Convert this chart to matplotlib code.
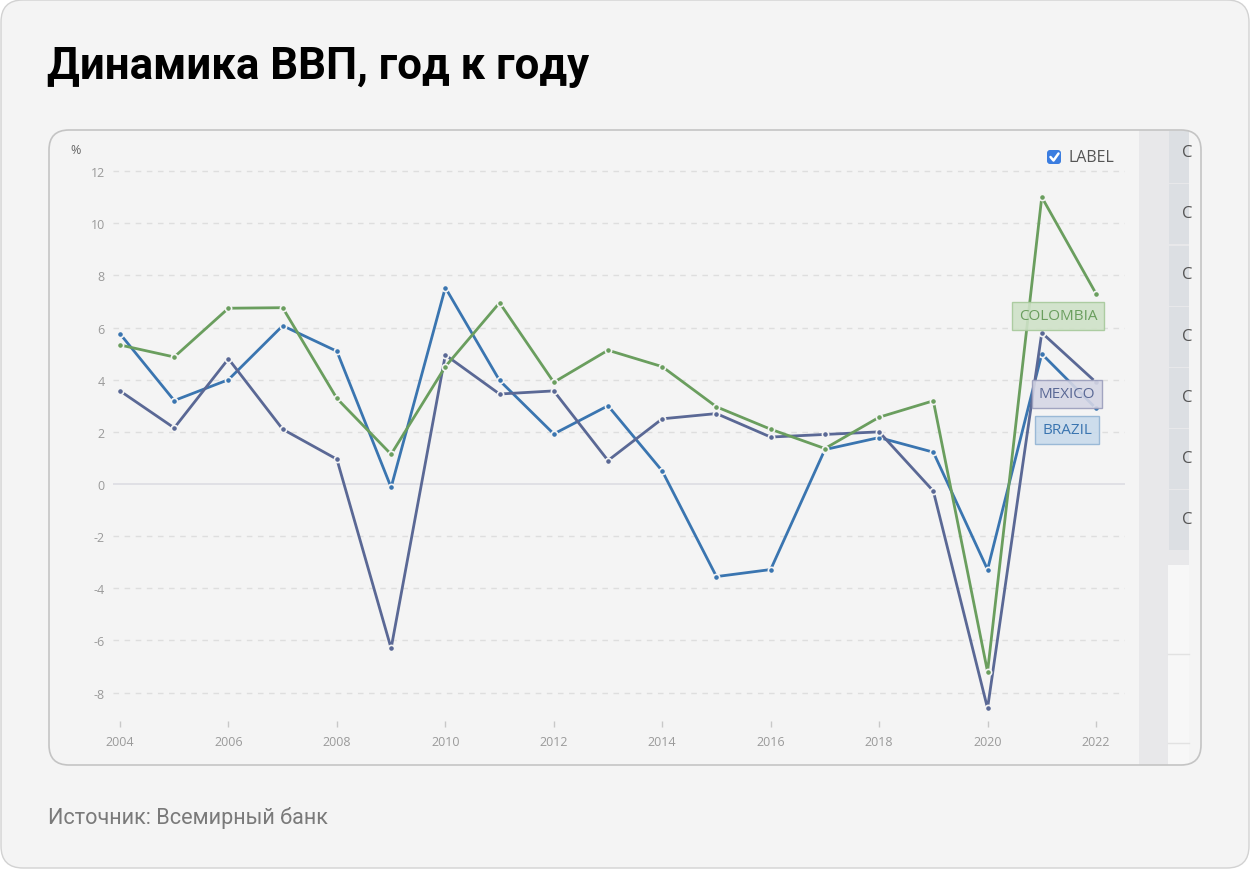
import matplotlib
matplotlib.use("Agg")
import matplotlib.pyplot as plt
from matplotlib.patches import FancyBboxPatch, Rectangle

plt.rcParams["axes.unicode_minus"] = False

years = list(range(2004, 2023))
brazil = [5.76, 3.2, 4.0, 6.07, 5.09, -0.13, 7.53, 3.97, 1.92, 3.0, 0.5, -3.55, -3.28, 1.32, 1.78, 1.22, -3.28, 4.99, 2.9]
mexico = [3.57, 2.15, 4.8, 2.1, 0.95, -6.3, 4.95, 3.45, 3.57, 0.9, 2.5, 2.7, 1.8, 1.9, 2.0, -0.27, -8.6, 5.8, 3.9]
colombia = [5.33, 4.87, 6.74, 6.76, 3.28, 1.14, 4.5, 6.95, 3.9, 5.13, 4.5, 2.96, 2.1, 1.36, 2.56, 3.19, -7.2, 11.0, 7.3]
y_ticks = [-8, -6, -4, -2, 0, 2, 4, 6, 8, 10, 12]
x_ticks = list(range(2004, 2023, 2))
series_names = ["COLOMBIA", "MEXICO", "BRAZIL"]

title = "Динамика ВВП, год к году"
source = "Источник: Всемирный банк"

c_brazil = "#3a75b0"
c_mexico = "#5a6895"
c_colombia = "#6a9e5e"
bg = "#f4f4f4"

fig = plt.figure(figsize=(12.5, 8.7), dpi=100)
fig.patch.set_facecolor("white")

# background layer in pixel coordinates
bgax = fig.add_axes([0, 0, 1, 1])
bgax.set_xlim(0, 1250)
bgax.set_ylim(870, 0)
bgax.axis("off")

card = FancyBboxPatch((1, 1), 1248, 868, boxstyle="round,pad=0,rounding_size=22",
                      facecolor=bg, edgecolor="#d2d2d2", linewidth=1)
bgax.add_patch(card)

panel = FancyBboxPatch((49, 131), 1152, 635, boxstyle="round,pad=0,rounding_size=20",
                       facecolor=bg, edgecolor="none")
bgax.add_patch(panel)

# right side strip (cut off table)
side = [Rectangle((1139, 131), 62, 635, facecolor="#e8e8ea", edgecolor="none")]
row_tops = [131, 184, 246, 307, 368, 429, 490]
for i, t in enumerate(row_tops):
    side.append(Rectangle((1169, t + 1), 20, 60 if i else 52, facecolor="#dcdfe3", edgecolor="none"))
side.append(Rectangle((1168, 566), 21, 200, facecolor="#f7f7f7", edgecolor="none"))
side.append(Rectangle((1189, 131), 12, 635, facecolor=bg, edgecolor="none"))
for p in side:
    bgax.add_patch(p)
    p.set_clip_path(panel)
for yy in [655, 744]:
    bgax.plot([1168, 1189], [yy, yy], color="#e2e2e2", lw=1)
clip_rect = Rectangle((1139, 131), 50, 635, transform=bgax.transData)
for yy in [153, 214, 275, 337, 398, 459, 520]:
    t = bgax.text(1182, yy, "C", fontsize=12, color="#555555", family="Open Sans",
                  va="center", ha="left")
    t.set_clip_path(clip_rect)

panel_edge = FancyBboxPatch((49, 131), 1152, 635, boxstyle="round,pad=0,rounding_size=20",
                            facecolor="none", edgecolor="#c4c4c4", linewidth=1.2)
bgax.add_patch(panel_edge)

bgax.text(47, 67, title, fontsize=31.6, fontweight="bold", family="Roboto",
          color="#000000", va="center", ha="left")
bgax.text(48, 818, source, fontsize=15.6, family="Roboto", color="#7a7a7a",
          va="center", ha="left")
bgax.text(70, 151, "%", fontsize=9, family="Open Sans", color="#666666", va="center")

# checkbox
bgax.add_patch(FancyBboxPatch((1047, 151), 14, 14, boxstyle="round,pad=0,rounding_size=3",
                              facecolor="#3b7de0", edgecolor="none"))
bgax.plot([1050.5, 1053.5, 1058.5], [158, 161.5, 154.5], color="white", lw=1.8,
          solid_capstyle="round", solid_joinstyle="round")
bgax.text(1069, 158.5, "LABEL", fontsize=11.5, family="Open Sans", color="#555555", va="center")

# main chart
ax = fig.add_axes([113 / 1250, 1 - 722 / 870, 1012 / 1250, 562 / 870])
ax.patch.set_alpha(0)
ax.set_xlim(2004 - 7 / 54.22, 2022 + 29 / 54.22)
ax.set_ylim((485 - 722) / 26.08, (485 - 160) / 26.08)

for v in y_ticks:
    if v == 0:
        ax.axhline(0, color="#dcdde2", lw=1.2, zorder=1)
    else:
        ax.axhline(v, color="#dedede", lw=1, ls=(0, (4, 4)), zorder=1)

mk = dict(marker="o", markersize=4.5, markeredgecolor=bg, markeredgewidth=1.2)
ax.plot(years, brazil, color=c_brazil, lw=2, zorder=3, **mk)
ax.plot(years, mexico, color=c_mexico, lw=2, zorder=3, **mk)
ax.plot(years, colombia, color=c_colombia, lw=2, zorder=3, **mk)

ax.set_yticks(y_ticks)
ax.set_xticks(x_ticks)
ax.tick_params(axis="y", length=0, pad=6, labelsize=9, labelcolor="#9a9a9a")
ax.tick_params(axis="x", length=4, width=1, color="#c8c8c8", pad=6, labelsize=9, labelcolor="#9a9a9a")
for lab in ax.get_xticklabels() + ax.get_yticklabels():
    lab.set_family("Open Sans")
for s in ax.spines.values():
    s.set_visible(False)

# series labels, drawn on a layer above the chart
top = fig.add_axes([0, 0, 1, 1])
top.set_xlim(0, 1250)
top.set_ylim(870, 0)
top.axis("off")
label_pos = [(1058, 317), (1067, 395), (1067, 431)]
label_colors = [(c_colombia, "#cfe2c8", "#a6c99b"),
                (c_mexico, "#d5d6e5", "#9a9dbb"),
                (c_brazil, "#c9dbec", "#93b4d4")]
for name, (x, y), (tc, fc, ec) in zip(series_names, label_pos, label_colors):
    top.text(x, y, name, fontsize=11, family="Open Sans", color=tc, ha="center", va="center",
             bbox=dict(boxstyle="square,pad=0.45", facecolor=fc, edgecolor=ec, alpha=0.9, lw=1))

fig.savefig("out.png", dpi=100, facecolor="white")
